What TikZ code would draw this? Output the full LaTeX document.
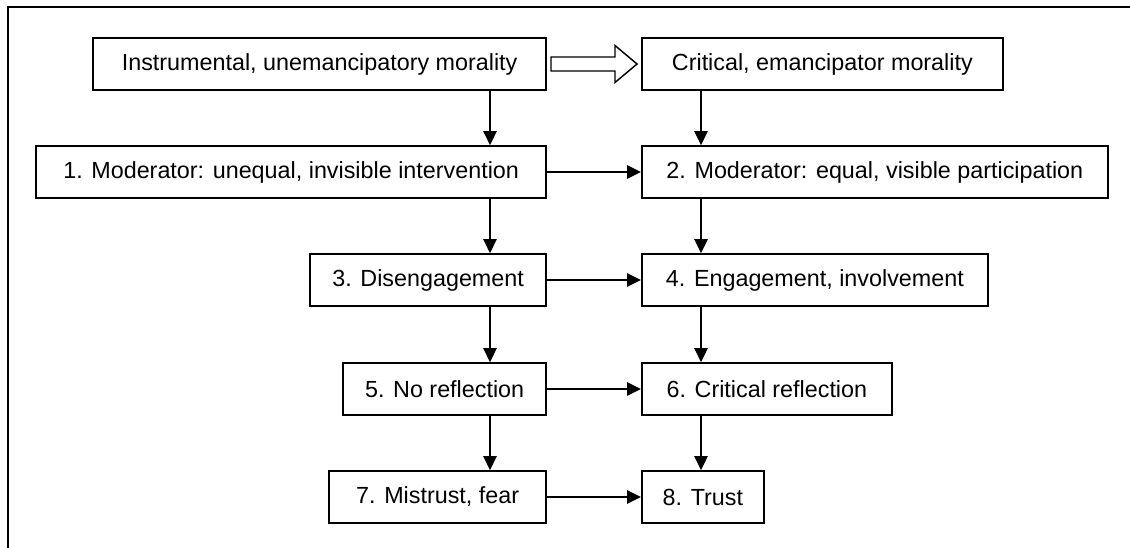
\documentclass[tikz,border=0pt]{standalone}
\usepackage{fontspec}
\setmainfont{Liberation Sans}
\usetikzlibrary{
    positioning,
    arrows.meta,
    calc
}

\begin{document}
\begin{tikzpicture}[
    x=0.75pt, y=-0.75pt,
    font=\fontsize{17.5}{21}\selectfont,
    stagebox/.style={
        rectangle, draw=black, line width=1.3pt,
        minimum height=39pt, inner sep=2pt, align=center
    },
    arr/.style={-{Triangle[length=10.5pt, width=10pt]}, line width=1.3pt},
    hollow/.style={draw=black, line width=1.1pt, fill=white}
]
\useasboundingbox (0,0) rectangle (1130,548);

% Frame: top and left edges only
\draw[line width=1.4pt] (8,548) -- (8,7) -- (1130,7);

% Columns for the vertical arrows
\coordinate (lcol) at (490,0);
\coordinate (rcol) at (701,0);

% Top row: the two kinds of morality
\node[stagebox, anchor=east, minimum width=339.75pt] (instr) at (547,64)
    {Instrumental, unemancipatory morality};
\node[stagebox, anchor=west, minimum width=270.75pt] (crit) at (641,64)
    {Critical, emancipator morality};

% Left column
\node[stagebox, anchor=east, minimum width=382.5pt] (s1) at (547,172)
    {1. Moderator: unequal, invisible intervention};
\node[stagebox, anchor=east, minimum width=177pt] (s3) at (547,280)
    {3. Disengagement};
\node[stagebox, anchor=east, minimum width=152.25pt] (s5) at (547,389)
    {5. No reflection};
\node[stagebox, anchor=east, minimum width=162.75pt] (s7) at (547,497)
    {7. Mistrust, fear};

% Right column
\node[stagebox, anchor=west, minimum width=349.5pt] (s2) at (641,172)
    {2. Moderator: equal, visible participation};
\node[stagebox, anchor=west, minimum width=259.5pt] (s4) at (641,280)
    {4. Engagement, involvement};
\node[stagebox, anchor=west, minimum width=187.5pt] (s6) at (641,389)
    {6. Critical reflection};
\node[stagebox, anchor=west, minimum width=91.5pt] (s8) at (641,497)
    {8. Trust};

% ------------------------------- Arrows --------------------------------------
\draw[hollow] ($(instr.east)+(4,-7)$) -- ($(instr.east)+(68,-7)$)
    -- ($(instr.east)+(68,-18.5)$) -- ($(crit.west)+(-4,0)$)
    -- ($(instr.east)+(68,18.5)$) -- ($(instr.east)+(68,7)$)
    -- ($(instr.east)+(4,7)$) -- cycle;

\draw[arr] (instr.south -| lcol) -- (s1.north -| lcol);
\draw[arr] (s1.south -| lcol) -- (s3.north -| lcol);
\draw[arr] (s3.south -| lcol) -- (s5.north -| lcol);
\draw[arr] (s5.south -| lcol) -- (s7.north -| lcol);

\draw[arr] (crit.south -| rcol) -- (s2.north -| rcol);
\draw[arr] (s2.south -| rcol) -- (s4.north -| rcol);
\draw[arr] (s4.south -| rcol) -- (s6.north -| rcol);
\draw[arr] (s6.south -| rcol) -- (s8.north -| rcol);

\draw[arr] (s1.east) -- (s2.west);
\draw[arr] (s3.east) -- (s4.west);
\draw[arr] (s5.east) -- (s6.west);
\draw[arr] (s7.east) -- (s8.west);

\end{tikzpicture}
\end{document}
